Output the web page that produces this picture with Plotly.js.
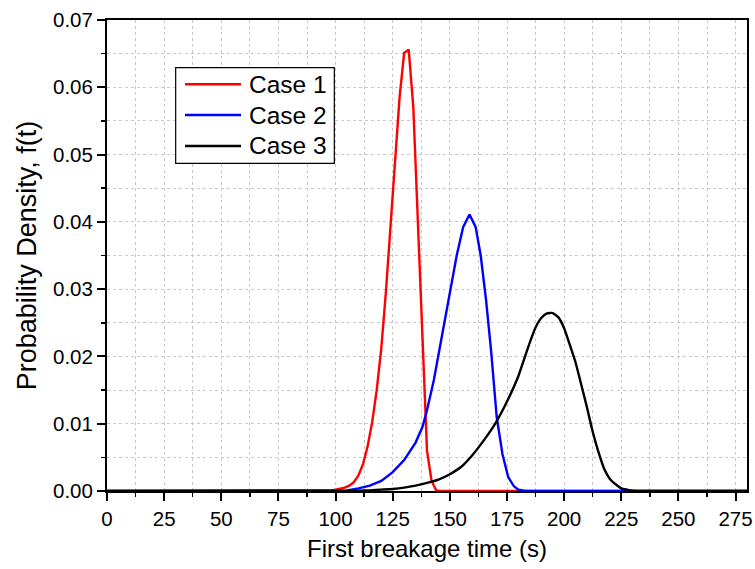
<!DOCTYPE html>
<html>
<head>
<meta charset="utf-8">
<script src="https://cdn.plot.ly/plotly-3.0.1.min.js"></script>
<style>html,body{margin:0;padding:0;background:#fff;}#chart{width:755px;height:569px;}</style>
</head>
<body>
<div id="chart"></div>
<script>
// Data
var seriesNames = ["Case 1", "Case 2", "Case 3"];
var seriesColors = ["#ff0000", "#0000ff", "#000000"];

var case1X = [0, 94, 96, 98, 100, 102, 104, 106, 108, 110, 112, 114, 116, 118, 120, 122, 124, 126, 128, 130, 132, 134, 136, 138, 140, 142, 144, 146, 280];
var case1Y = [0, 0, 0.0001, 0.0001, 0.0002, 0.0003, 0.0005, 0.0008, 0.0013, 0.0023, 0.0040, 0.0066, 0.0102, 0.0150, 0.0212, 0.0295, 0.0390, 0.0488, 0.0585, 0.0651, 0.0656, 0.0571, 0.040, 0.021, 0.006, 0.0015, 0.0001, 0, 0];

var case2X = [0, 100, 105, 110, 115, 120, 125, 130, 135, 138, 140, 143, 146, 150, 153, 155.8, 158.6, 161.3, 163.5, 165.8, 168, 170.5, 173, 175.5, 178, 180, 183, 280];
var case2Y = [0, 0, 0.0001, 0.0004, 0.0008, 0.0015, 0.0028, 0.0046, 0.0072, 0.0095, 0.0120, 0.0165, 0.0222, 0.0295, 0.035, 0.0392, 0.0411, 0.0392, 0.035, 0.0285, 0.021, 0.011, 0.0055, 0.0021, 0.0007, 0.0002, 0, 0];

var case3X = [0, 100, 110, 115, 120, 125, 130, 135, 140, 145, 150, 155, 160, 165, 170, 175, 180, 182.5, 185, 187.5, 190, 192.5, 195, 197.5, 200, 202.5, 205, 207.5, 210, 212.5, 215, 217.5, 220, 222.5, 225, 227.5, 230, 235, 280];
var case3Y = [0, 0, 0.00005, 0.0001, 0.0002, 0.0003, 0.0005, 0.0008, 0.0012, 0.0017, 0.0025, 0.0036, 0.0054, 0.0076, 0.0101, 0.0133, 0.0171, 0.0196, 0.0221, 0.0243, 0.0257, 0.0264, 0.02645, 0.0258, 0.0242, 0.0217, 0.0191, 0.0158, 0.0124, 0.0088, 0.0058, 0.0033, 0.0018, 0.0010, 0.0004, 0.0002, 0.00005, 0, 0];

var xTickVals = [0, 25, 50, 75, 100, 125, 150, 175, 200, 225, 250, 275];
var yTickVals = [0, 0.01, 0.02, 0.03, 0.04, 0.05, 0.06, 0.07];

var FONT = "Liberation Sans, Arial, sans-serif";
var LW = 2.4;

var traces = [
  {x: case1X, y: case1Y, name: seriesNames[0], mode: "lines", line: {color: seriesColors[0], width: LW}, showlegend: false},
  {x: case2X, y: case2Y, name: seriesNames[1], mode: "lines", line: {color: seriesColors[1], width: LW}, showlegend: false},
  {x: case3X, y: case3Y, name: seriesNames[2], mode: "lines", line: {color: seriesColors[2], width: LW, shape: "spline", smoothing: 0.5}, showlegend: false}
];

// Legend box (paper coordinates) drawn as layout shapes + text annotations
var legendBox = {x0: 0.1073, x1: 0.3552, y0: 0.6958, y1: 0.8987};
var legendRowsY = [0.8635, 0.7983, 0.7325];
var legendLineX = [0.1219, 0.2094];
var legendTextX = 0.2190;

var shapes = [{
  type: "rect", xref: "paper", yref: "paper",
  x0: legendBox.x0, x1: legendBox.x1, y0: legendBox.y0, y1: legendBox.y1,
  fillcolor: "#fff", line: {color: "#000", width: 1.2}
}];
var annotations = [];
seriesNames.forEach(function (nm, i) {
  shapes.push({type: "line", xref: "paper", yref: "paper",
    x0: legendLineX[0], x1: legendLineX[1], y0: legendRowsY[i], y1: legendRowsY[i],
    line: {color: seriesColors[i], width: LW}});
  annotations.push({xref: "paper", yref: "paper", x: legendTextX, y: legendRowsY[i],
    xanchor: "left", yanchor: "middle", text: nm, showarrow: false,
    font: {family: FONT, size: 24.5, color: "#000"}});
});

var axisCommon = {
  showline: true, linecolor: "#000", linewidth: 2, mirror: true,
  ticks: "outside", ticklen: 8, tickwidth: 2, tickcolor: "#000",
  showgrid: false, zeroline: false,
  tickfont: {family: FONT, size: 20.5, color: "#000"}
};

var layout = {
  width: 755, height: 569,
  margin: {l: 107, r: 8, t: 20, b: 78},
  paper_bgcolor: "#fff", plot_bgcolor: "#fff",
  font: {family: FONT, color: "#000"},
  showlegend: false,
  shapes: shapes,
  annotations: annotations,
  xaxis: Object.assign({}, axisCommon, {
    range: [0, 280], tickvals: xTickVals,
    minor: {dtick: 12.5, tick0: 0, ticks: "outside", ticklen: 4, tickwidth: 1.5, tickcolor: "#000",
            showgrid: true, gridcolor: "#c8c8c8", griddash: "dot", gridwidth: 1},
    title: {text: "First breakage time (s)", font: {family: FONT, size: 24, color: "#000"}, standoff: 12}
  }),
  yaxis: Object.assign({}, axisCommon, {
    range: [0, 0.07], tickvals: yTickVals, tickformat: ".2f",
    minor: {dtick: 0.005, tick0: 0, ticks: "outside", ticklen: 4, tickwidth: 1.5, tickcolor: "#000",
            showgrid: true, gridcolor: "#c8c8c8", griddash: "dot", gridwidth: 1},
    title: {text: "Probability Density, f(t)", font: {family: FONT, size: 27, color: "#000"}, standoff: 9}
  })
};

Plotly.newPlot("chart", traces, layout, {displayModeBar: false, staticPlot: true});
</script>
</body>
</html>
